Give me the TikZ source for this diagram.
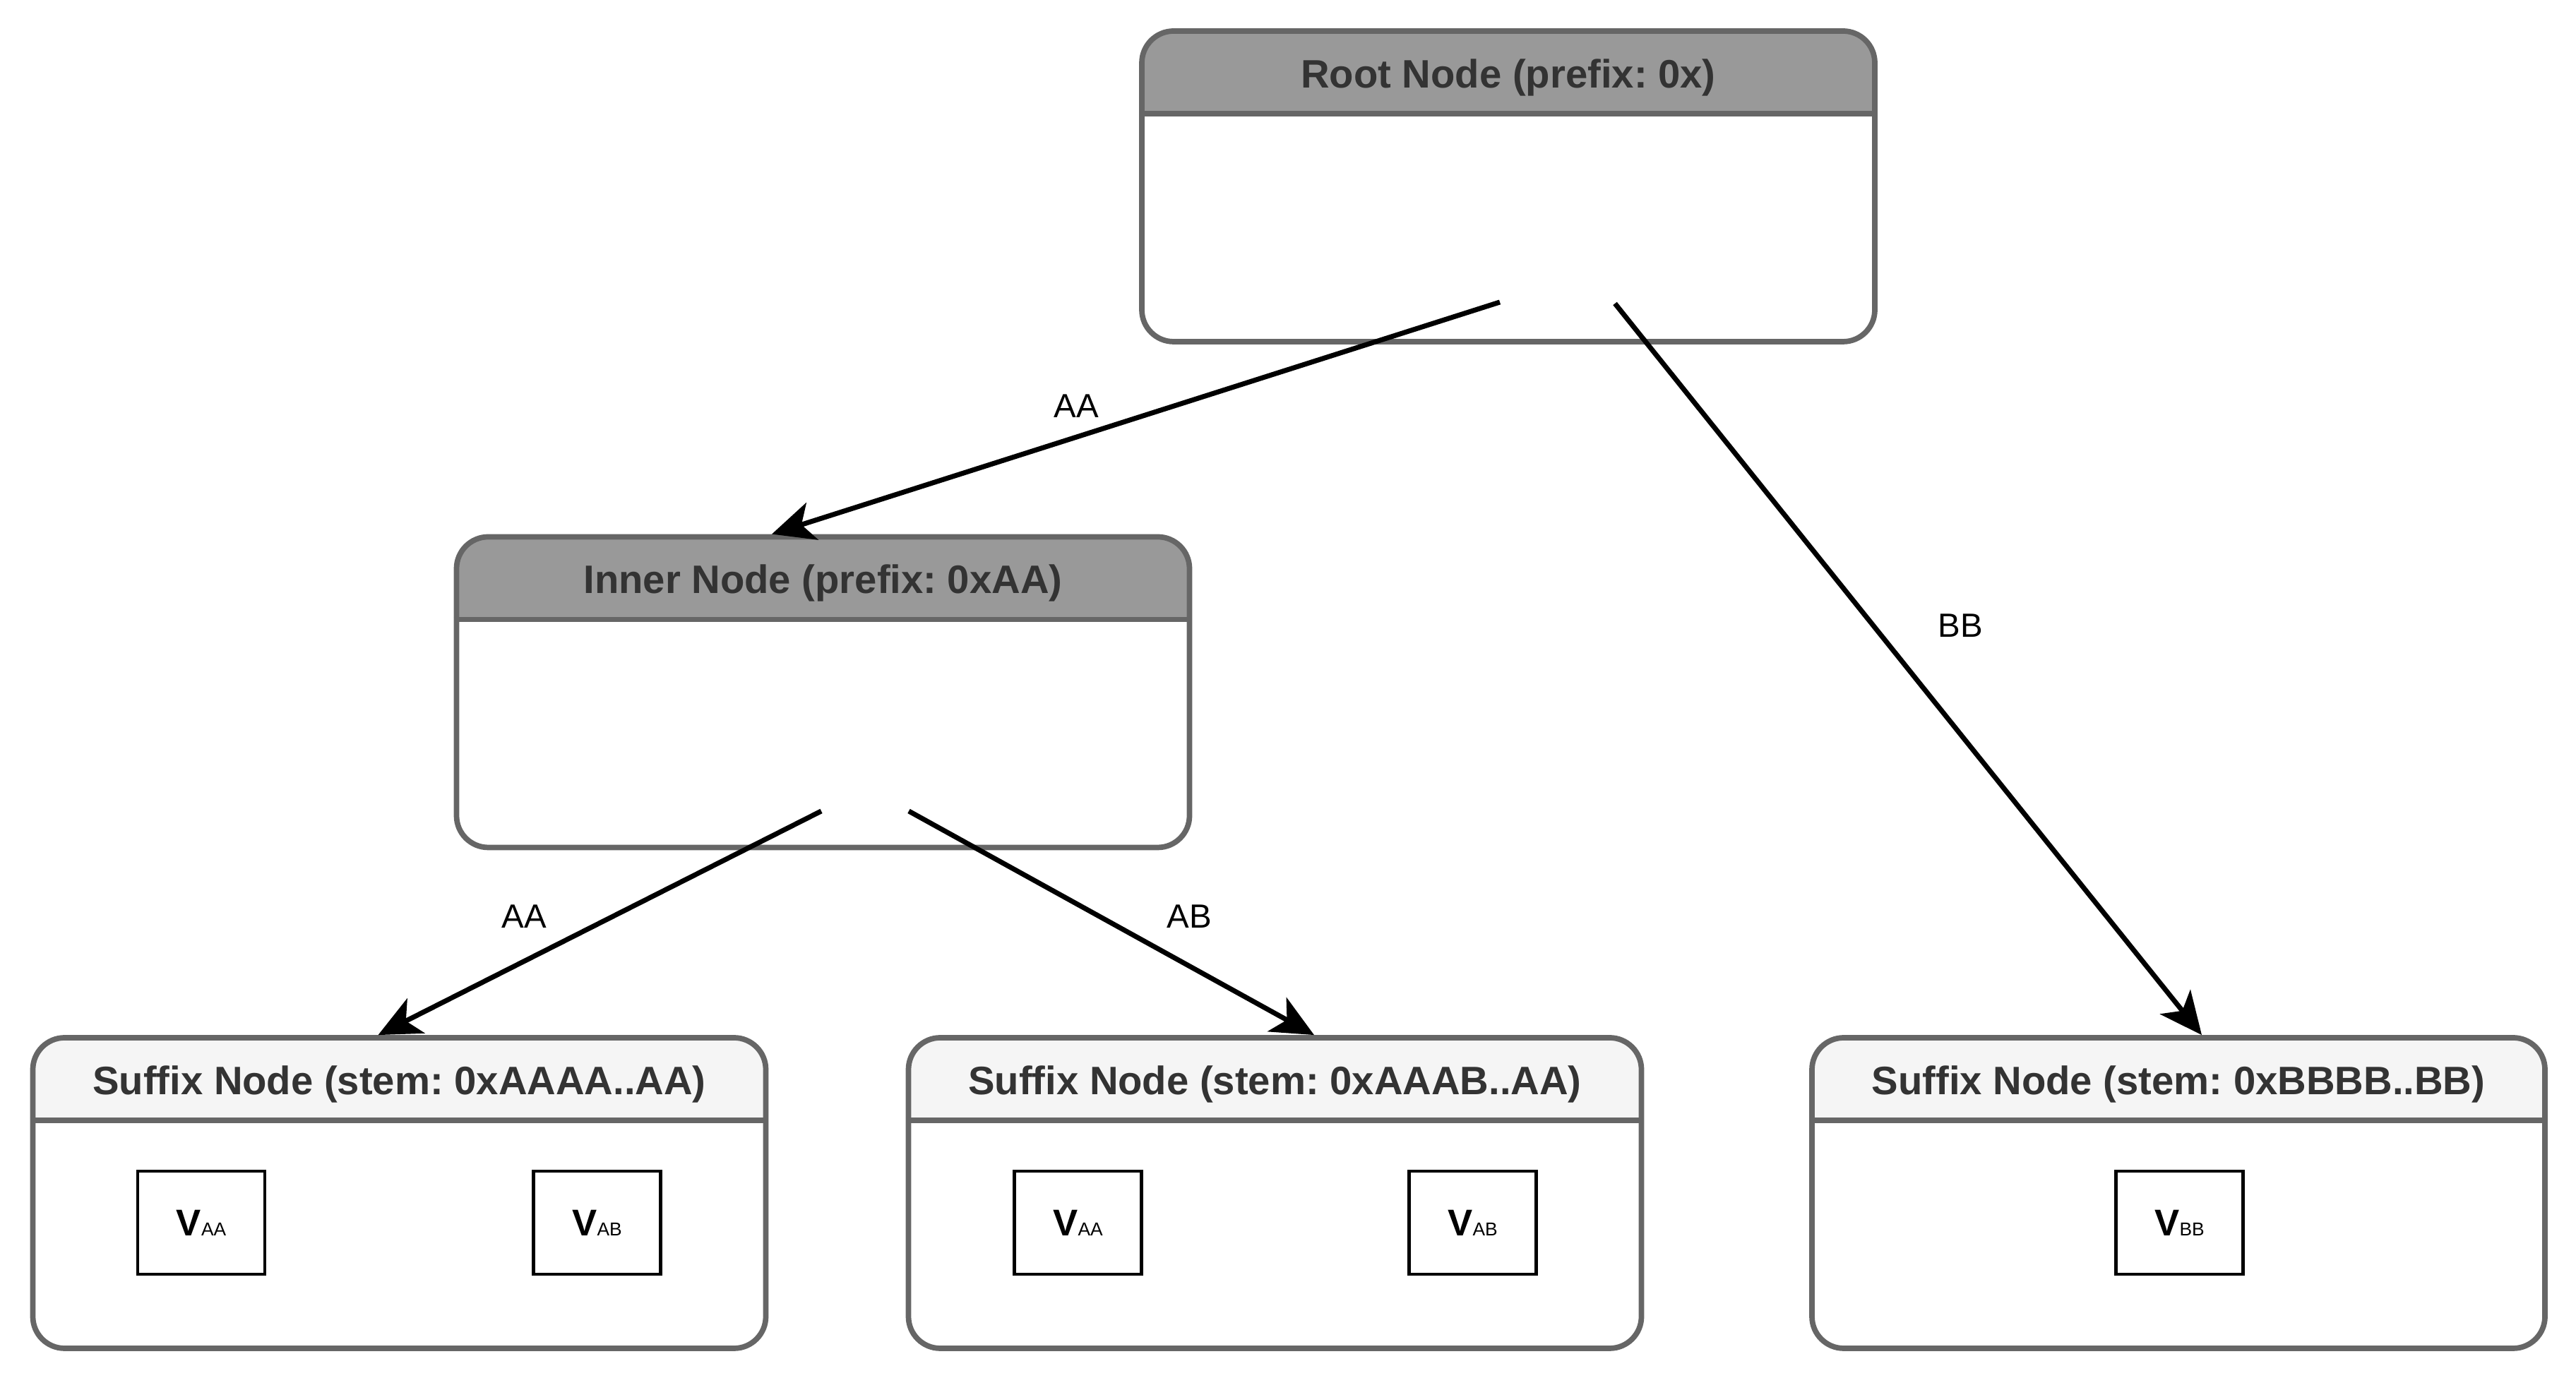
\documentclass[tikz,border=0pt]{standalone}
\usepackage{fontspec}
\setmainfont{Liberation Sans}
\usetikzlibrary{arrows.meta}
\definecolor{boxline}{HTML}{666666}
\definecolor{headdark}{HTML}{999999}
\definecolor{headlight}{HTML}{F5F5F5}
\definecolor{titletext}{HTML}{333333}
\frenchspacing
\newcommand{\valtext}[1]{{\fontsize{15}{17}\selectfont\bfseries V}{\fontsize{7.5}{9}\selectfont #1}}

\begin{document}
\begin{tikzpicture}[
        trienode/.style={draw=boxline, line width=2.2pt, rounded corners=0.45cm, inner sep=0pt,
            minimum width=10.38cm, minimum height=4.40cm,
            path picture={\fill[#1, sharp corners] (path picture bounding box.north west) rectangle ([yshift=-1.21cm]path picture bounding box.north east);}},
        headline/.style={draw=boxline, line width=2.2pt},
        title/.style={text=titletext, anchor=base, font=\fontsize{16}{19}\selectfont\bfseries},
        valbox/.style={draw, line width=1.4pt, minimum width=1.8cm, minimum height=1.46cm, inner sep=0pt},
        link/.style={line width=2pt, -{Stealth[length=0.6cm, width=0.55cm, inset=0.16cm]}},
        lbl/.style={font=\fontsize{13.5}{16}\selectfont}
    ]
        \useasboundingbox (0,0) rectangle (36.48,19.52);

        % boxes
        \node[trienode=headdark] (root) at (21.36,16.88) {};
        \node[trienode=headdark] (inner) at (11.655,9.715) {};
        \node[trienode=headlight] (sufa) at (5.655,2.62) {};
        \node[trienode=headlight] (sufb) at (18.055,2.62) {};
        \node[trienode=headlight] (sufc) at (30.85,2.62) {};

        \draw[headline] ([yshift=-1.21cm]root.north west) -- ([yshift=-1.21cm]root.north east);
        \draw[headline] ([yshift=-1.21cm]inner.north west) -- ([yshift=-1.21cm]inner.north east);
        \draw[headline] ([yshift=-1.21cm]sufa.north west) -- ([yshift=-1.21cm]sufa.north east);
        \draw[headline] ([yshift=-1.21cm]sufb.north west) -- ([yshift=-1.21cm]sufb.north east);
        \draw[headline] ([yshift=-1.21cm]sufc.north west) -- ([yshift=-1.21cm]sufc.north east);

        % titles
        \node[title] (roottitle) at ([yshift=-0.84cm]root.north) {Root Node (prefix: 0x)};
        \node[title] (innertitle) at ([yshift=-0.84cm]inner.north) {Inner Node (prefix: 0xAA)};
        \node[title] (sufatitle) at ([yshift=-0.84cm]sufa.north) {Suffix Node (stem: 0xAAAA..AA)};
        \node[title] (sufbtitle) at ([yshift=-0.84cm]sufb.north) {Suffix Node (stem: 0xAAAB..AA)};
        \node[title] (sufctitle) at ([yshift=-0.84cm]sufc.north) {Suffix Node (stem: 0xBBBB..BB)};

        % values
        \node[valbox] (va1) at (2.85,2.20) {\valtext{AA}};
        \node[valbox] (vb1) at (8.455,2.20) {\valtext{AB}};
        \node[valbox] (va2) at (15.265,2.20) {\valtext{AA}};
        \node[valbox] (vb2) at (20.855,2.20) {\valtext{AB}};
        \node[valbox] (vbb) at (30.865,2.20) {\valtext{BB}};

        % edges
        \coordinate (rootaa) at (21.24,15.24);
        \coordinate (rootbb) at (22.87,15.22);
        \coordinate (inneraa) at (11.63,8.03);
        \coordinate (innerab) at (12.87,8.03);

        \draw[link] (rootaa) -- ([xshift=-0.725cm]inner.north);
        \draw[link] (rootbb) -- ([xshift=0.33cm]sufc.north);
        \draw[link] (inneraa) -- ([xshift=-0.3cm]sufa.north);
        \draw[link] (innerab) -- ([xshift=0.555cm]sufb.north);

        \node[lbl] (lblrootaa) at (15.24,13.77) {AA};
        \node[lbl] (lblrootbb) at (27.76,10.66) {BB};
        \node[lbl] (lblinneraa) at (7.42,6.54) {AA};
        \node[lbl] (lblinnerab) at (16.84,6.54) {AB};
    \end{tikzpicture}
\end{document}
